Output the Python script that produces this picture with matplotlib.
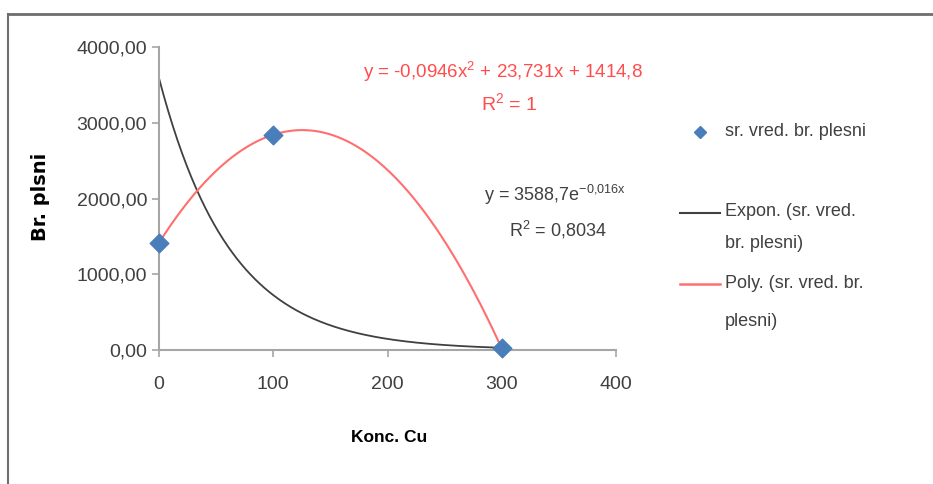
import numpy as np
import matplotlib
matplotlib.use("Agg")
import matplotlib.pyplot as plt
from matplotlib.ticker import FuncFormatter
from matplotlib.lines import Line2D

# data points (sr. vred. br. plesni)
konc = [0, 100, 300]
plesni = [1414.8, 2841.9, 20.1]

# trendline coefficients as printed on the chart
poly_coef = [-0.0946, 23.731, 1414.8]
exp_a, exp_b = 3588.7, -0.016

x_ticks = [0, 100, 200, 300, 400]
y_ticks = [0, 1000, 2000, 3000, 4000]

plt.rcParams['font.family'] = ['Liberation Sans Narrow', 'Liberation Sans', 'DejaVu Sans']
plt.rcParams['mathtext.fontset'] = 'custom'
plt.rcParams['mathtext.rm'] = 'Liberation Sans'

W, H = 933, 484
fig = plt.figure(figsize=(W / 100, H / 100), dpi=100)

def fx(px):
    return px / W

def fy(py):
    return 1 - py / H

# outer chart frame
fig.add_artist(Line2D([fx(8), fx(933)], [fy(14), fy(14)], color='#6e6e6e', lw=2))
fig.add_artist(Line2D([fx(8), fx(8)], [fy(14), fy(484)], color='#6e6e6e', lw=1.5))

ax = fig.add_axes([fx(159), fy(350), fx(616) - fx(159), fy(47) - fy(350)])

xs = np.linspace(konc[0], konc[-1], 300)
ax.plot(xs, exp_a * np.exp(exp_b * xs), color='#404040', lw=1.3, zorder=2)
ax.plot(xs, np.polyval(poly_coef, xs), color='#ff6f6f', lw=1.5, zorder=3)
ax.scatter(konc, plesni, marker='D', s=90, color='#4a7ebb', zorder=4, clip_on=False)

ax.set_xlim(0, 400)
ax.set_ylim(0, 4000)
ax.set_xticks(x_ticks)
ax.set_yticks(y_ticks)
ax.yaxis.set_major_formatter(FuncFormatter(lambda v, p: f"{v:.2f}".replace('.', ',')))

for s in ['top', 'right']:
    ax.spines[s].set_visible(False)
for s in ['left', 'bottom']:
    ax.spines[s].set_color('#a6a6a6')
    ax.spines[s].set_linewidth(1.5)
ax.tick_params(colors='#a6a6a6', length=5, width=1.2, labelsize=14, labelcolor='#404040')
ax.tick_params(axis='x', pad=14)
ax.set_facecolor('none')

fig.text(fx(40), fy(197), 'Br. plsni', rotation=90, fontsize=14, fontweight='bold',
         ha='center', va='center', family=['DejaVu Sans'])
fig.text(fx(389), fy(437), 'Konc. Cu', fontsize=12.5, fontweight='bold', ha='center', va='center')

# trendline equations
red = '#ff4d4d'
fig.text(fx(503), fy(72), r'y = -0,0946x$^{\mathregular{2}}$ + 23,731x + 1414,8', color=red,
         fontsize=13.5, ha='center', va='center')
fig.text(fx(509), fy(104), r'R$^{\mathregular{2}}$ = 1', color=red, fontsize=14,
         ha='center', va='center')
fig.text(fx(555), fy(195), r'y = 3588,7e$^{\mathregular{-0{,}016x}}$', color='#404040',
         fontsize=13, ha='center', va='center')
fig.text(fx(558), fy(230), r'R$^{\mathregular{2}}$ = 0,8034', color='#404040', fontsize=13,
         ha='center', va='center')

# legend
lc = '#404040'
fig.add_artist(Line2D([fx(700)], [fy(132)], marker='D', markersize=6, color='#4a7ebb', lw=0))
fig.text(fx(725), fy(132), 'sr. vred. br. plesni', fontsize=13, color=lc, va='center')
fig.add_artist(Line2D([fx(680), fx(720)], [fy(213), fy(213)], color='#404040', lw=1.5))
fig.text(fx(725), fy(212), 'Expon. (sr. vred.', fontsize=13, color=lc, va='center')
fig.text(fx(725), fy(244), 'br. plesni)', fontsize=13, color=lc, va='center')
fig.add_artist(Line2D([fx(680), fx(720)], [fy(284), fy(284)], color='#ff6f6f', lw=1.8))
fig.text(fx(725), fy(284), 'Poly. (sr. vred. br.', fontsize=13, color=lc, va='center')
fig.text(fx(725), fy(322), 'plesni)', fontsize=13, color=lc, va='center')

fig.savefig('out.png', dpi=100)
